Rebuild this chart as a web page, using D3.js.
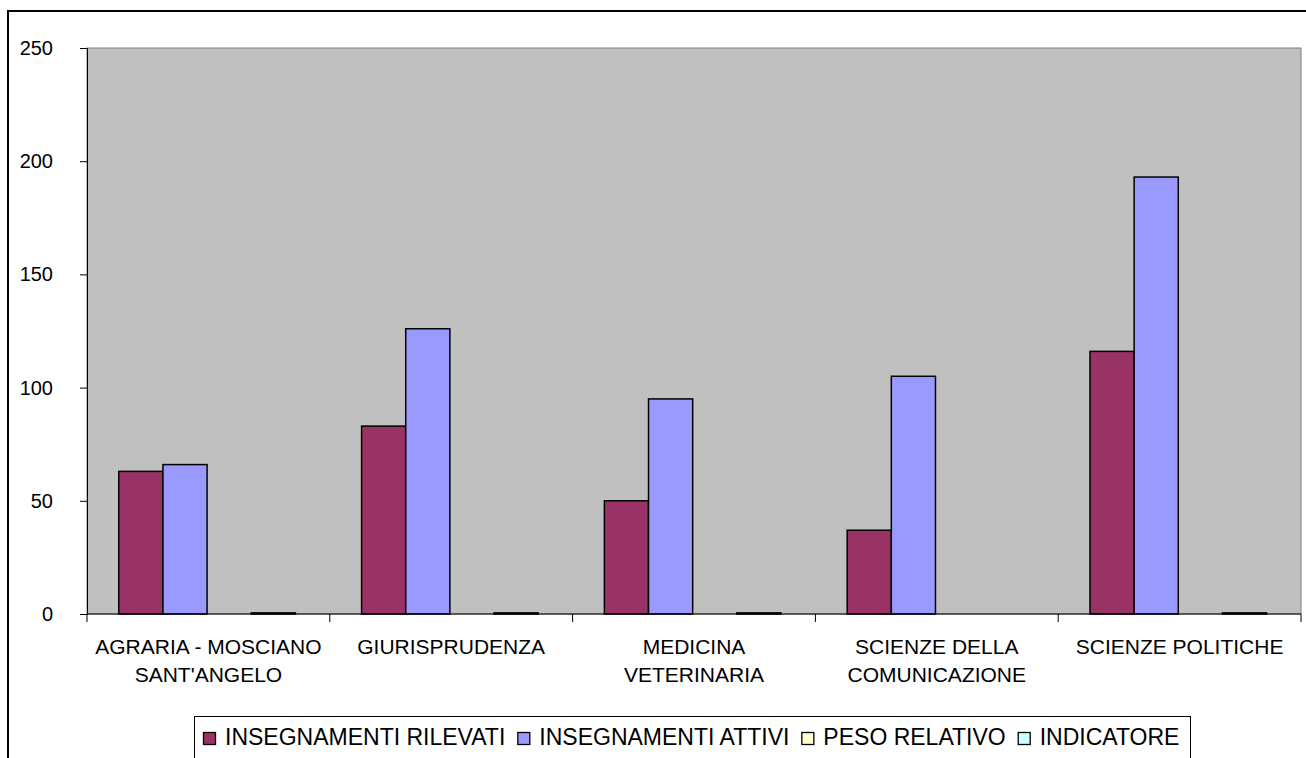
<!DOCTYPE html>
<html>
<head>
<meta charset="utf-8">
<script src="https://cdn.jsdelivr.net/npm/d3@7"></script>
<style>
  html, body { margin: 0; padding: 0; background: #fff; }
  svg { display: block; }
  text { font-family: "Liberation Sans", Arial, sans-serif; fill: #000; }
</style>
</head>
<body>
<svg id="chart" width="1306" height="758"></svg>
<script>
// ---- data ----
const categories = ["AGRARIA - MOSCIANO SANT'ANGELO", "GIURISPRUDENZA", "MEDICINA VETERINARIA", "SCIENZE DELLA COMUNICAZIONE", "SCIENZE POLITICHE"];
const seriesNames = ["INSEGNAMENTI RILEVATI", "INSEGNAMENTI ATTIVI", "PESO RELATIVO", "INDICATORE"];
const rilevati = [63, 83, 50, 37, 116];
const attivi = [66, 126, 95, 105, 193];
const pesoRelativo = [0, 0, 0, 0, 0];
const indicatore = [0.5, 0.5, 0.5, 0, 0.5];
const yTicks = [0, 50, 100, 150, 200, 250];
const seriesColors = ["#993366", "#9999FF", "#FFFFCC", "#CCFFFF"];

const seriesValues = [rilevati, attivi, pesoRelativo, indicatore];

const svg = d3.select("#chart");
const plot = { left: 87, right: 1301, top: 48, bottom: 614 };

// outer chart border
svg.append("rect")
  .attr("x", 8).attr("y", 11).attr("width", 1320).attr("height", 780)
  .attr("fill", "none").attr("stroke", "#000").attr("stroke-width", 2);

const x0 = d3.scaleBand().domain(categories).range([plot.left, plot.right]).padding(0);
const x1 = d3.scaleBand().domain(seriesNames).range([0, x0.bandwidth()])
  .paddingInner(0).paddingOuter(0.75).align(0.48);
const y = d3.scaleLinear().domain([0, 250]).range([plot.bottom, plot.top]);

// plot background
svg.append("rect")
  .attr("x", plot.left).attr("y", plot.top)
  .attr("width", plot.right - plot.left).attr("height", plot.bottom - plot.top)
  .attr("fill", "#C0C0C0").attr("stroke", "#808080").attr("stroke-width", 1);

// bars
const barData = [];
categories.forEach((c, i) => {
  seriesNames.forEach((s, j) => {
    const v = seriesValues[j][i];
    if (v > 0) barData.push({ c, s, v, color: seriesColors[j] });
  });
});
svg.append("g").selectAll("rect").data(barData).join("rect")
  .attr("x", d => x0(d.c) + x1(d.s))
  .attr("y", d => y(d.v))
  .attr("width", x1.bandwidth())
  .attr("height", d => y(0) - y(d.v))
  .attr("fill", d => d.color)
  .attr("stroke", "#000").attr("stroke-width", 1.5);

// y axis
const yAxis = d3.axisLeft(y).tickValues(yTicks).tickSize(7).tickPadding(27).tickFormat(d3.format("d"));
const gy = svg.append("g").attr("transform", `translate(${plot.left},0)`).call(yAxis);
gy.select(".domain").attr("stroke", "#000").attr("stroke-width", 1);
gy.selectAll(".tick line").attr("stroke", "#000");
gy.selectAll(".tick text").attr("font-size", 20).attr("font-family", "Liberation Sans, Arial, sans-serif").attr("fill", "#000");

// x axis line and boundary ticks
svg.append("line")
  .attr("x1", plot.left).attr("x2", plot.right)
  .attr("y1", plot.bottom).attr("y2", plot.bottom)
  .attr("stroke", "#000").attr("stroke-width", 1);
const bounds = categories.map(c => x0(c)).concat([x0(categories[categories.length - 1]) + x0.bandwidth()]);
svg.append("g").selectAll("line").data(bounds).join("line")
  .attr("x1", d => d).attr("x2", d => d)
  .attr("y1", plot.bottom).attr("y2", plot.bottom + 8)
  .attr("stroke", "#000").attr("stroke-width", 1);

// category labels with wrapping
const maxW = x0.bandwidth() - 8;
categories.forEach(c => {
  const t = svg.append("text")
    .attr("x", x0(c) + x0.bandwidth() / 2)
    .attr("y", 654)
    .attr("text-anchor", "middle")
    .attr("font-size", 21);
  const words = c.split(" ");
  let lines = [];
  let cur = [];
  const probe = svg.append("text").attr("font-size", 21).attr("visibility", "hidden");
  words.forEach(w => {
    const test = cur.concat([w]).join(" ");
    probe.text(test);
    if (cur.length && probe.node().getComputedTextLength() > maxW) {
      lines.push(cur.join(" "));
      cur = [w];
    } else {
      cur.push(w);
    }
  });
  if (cur.length) lines.push(cur.join(" "));
  probe.remove();
  lines.forEach((ln, k) => {
    t.append("tspan").attr("x", x0(c) + x0.bandwidth() / 2).attr("dy", k === 0 ? 0 : 27.7).text(ln);
  });
});

// legend
const legend = svg.append("g");
legend.append("rect")
  .attr("x", 194.5).attr("y", 716.5).attr("width", 996).attr("height", 60)
  .attr("fill", "#fff").attr("stroke", "#000").attr("stroke-width", 1);
let lx = 203;
seriesNames.forEach((s, j) => {
  legend.append("rect")
    .attr("x", lx + 0.5).attr("y", 732.5).attr("width", 12).attr("height", 12)
    .attr("fill", seriesColors[j]).attr("stroke", "#000").attr("stroke-width", 1.3);
  const tx = legend.append("text")
    .attr("x", lx + 22).attr("y", 745)
    .attr("font-size", 23)
    .text(s);
  lx = lx + 22 + tx.node().getComputedTextLength() + 12;
});
</script>
</body>
</html>
